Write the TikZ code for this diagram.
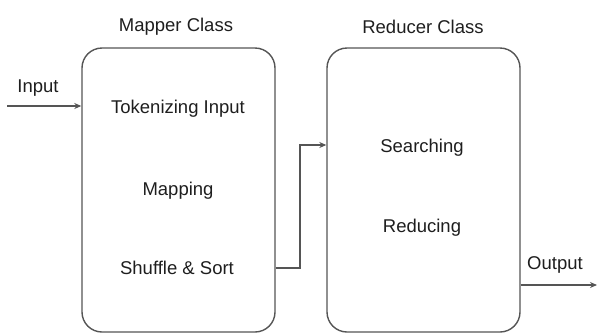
\documentclass[tikz,border=0pt]{standalone}
\usepackage{fontspec}
\setmainfont{Liberation Sans}
\usetikzlibrary{arrows.meta,positioning}
\definecolor{linegray}{RGB}{85,85,85}
\definecolor{textgray}{RGB}{30,30,30}
\tikzset{
  classbox/.style={draw=linegray,line width=1.4pt,rounded corners=20pt,
    minimum width=193pt,minimum height=284pt},
  lbl/.style={text=textgray,font=\fontsize{18.5}{20}\selectfont,inner sep=1pt},
  flow/.style={draw=linegray,line width=1.3pt,-{Stealth[length=7pt,width=6pt]}}
}
\begin{document}
\begin{tikzpicture}[x=1pt,y=-1pt]
\useasboundingbox(0,0)rectangle(597,335);
% mapper side
\node[classbox](mapper)at(178.5,190){};
\node[lbl](mappertitle)at(176,27){Mapper Class};
\node[lbl](tokenize)at(178,109){Tokenizing Input};
\node[lbl](mapping)at(178,191){Mapping};
\node[lbl](shuffle)at(177,268){Shuffle \& Sort};
% reducer side
\node[classbox](reducer)at(423.5,190){};
\node[lbl](reducertitle)at(423,27){Reducer Class};
\node[lbl](searching)at(422,148){Searching};
\node[lbl](reducing)at(422,228){Reducing};
% flow
\coordinate(in)at(7,106);
\node[lbl](inlabel)at(38,88){Input};
\draw[flow](in)--(mapper.west|-in);
\coordinate(turn)at(300,145);
\draw[flow](mapper.east|-shuffle)-|(turn)--(reducer.west|-turn);
\coordinate(out)at(597,285);
\node[lbl](outlabel)at(555,265){Output};
\draw[flow](reducer.east|-out)--(out);
\end{tikzpicture}
\end{document}
